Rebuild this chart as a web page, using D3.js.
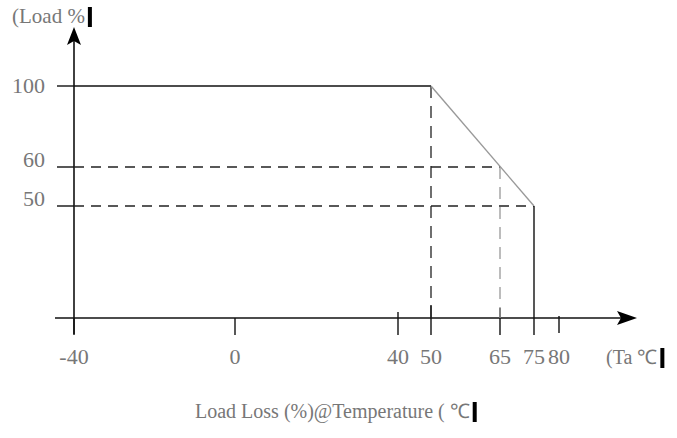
<!DOCTYPE html>
<html>
<head>
<meta charset="utf-8">
<script src="https://cdn.jsdelivr.net/npm/d3@7"></script>
<style>
  body { margin: 0; background: #fff; }
  text { font-family: "Liberation Serif", serif; fill: #777; }
</style>
</head>
<body>
<div id="chart"></div>
<script>
// DATA
var tempTicks = [-40, 0, 40, 50, 65, 75, 80];
var loadTicks = [50, 60, 100];
var curveTemp = [-40, 50, 75];
var curveLoad = [100, 100, 50];
var guideTemp = [50, 65];          // vertical dashed guides
var guideLoad = [100, 60];
var yTitle = '(Load %';
var xTitle = '(Ta \u2103';
var chartTitle = 'Load Loss (%)@Temperature ( \u2103';

// CANVAS
var width = 677, height = 438;
var svg = d3.select('#chart').append('svg')
   .attr('width', width)
   .attr('height', height)

// SCALES -- PIECEWISE, THE DRAWING IS NOT TO SCALE
var xScale = d3.scaleLinear()
   .domain([-40, 0, 40, 50, 65, 75, 80])
   .range([74, 235, 398, 431, 500, 534, 559])

var yScale = d3.scaleLinear()
   .domain([0, 50, 60, 100])
   .range([318, 206, 167, 86])

var x0 = xScale(-40), y0 = yScale(0);

// AXES LINES
svg.append('line')
   .attr('x1', x0).attr('x2', x0)
   .attr('y1', 334).attr('y2', 40)
   .attr('stroke', '#111').attr('stroke-width', 1.6)

svg.append('line')
   .attr('x1', 55).attr('x2', 622)
   .attr('y1', y0).attr('y2', y0)
   .attr('stroke', '#111').attr('stroke-width', 1.6)

// ARROW HEADS
svg.append('path')
   .attr('d', 'M' + x0 + ',27 L' + (x0 + 7) + ',45 L' + x0 + ',41 L' + (x0 - 7) + ',45 Z')
   .attr('fill', '#000')

svg.append('path')
   .attr('d', 'M637,' + y0 + ' L617,' + (y0 - 7) + ' L621,' + y0 + ' L617,' + (y0 + 7) + ' Z')
   .attr('fill', '#000')

// Y TICK STUBS
svg.selectAll('.ystub')
   .data(loadTicks)
   .enter().append('line')
      .attr('x1', 57).attr('x2', x0)
      .attr('y1', (d) => { return yScale(d) })
      .attr('y2', (d) => { return yScale(d) })
      .attr('stroke', '#111').attr('stroke-width', 1.4)

// X TICKS
var tickTop = { '-40': 0, '0': 0, '40': 6, '50': 13, '65': 10, '75': 0, '80': 2 };
svg.selectAll('.xtick')
   .data(tempTicks)
   .enter().append('line')
      .attr('x1', (d) => { return xScale(d) })
      .attr('x2', (d) => { return xScale(d) })
      .attr('y1', (d) => { return y0 - tickTop[d] })
      .attr('y2', (d) => { return d == 80 ? y0 + 15 : y0 + 17 })
      .attr('stroke', '#111').attr('stroke-width', 1.4)

// DASHED GUIDES -- HORIZONTAL
svg.append('line')
   .attr('x1', x0).attr('x2', xScale(65))
   .attr('y1', yScale(60)).attr('y2', yScale(60))
   .attr('stroke', '#222').attr('stroke-width', 1.3)
   .attr('stroke-dasharray', '10,7')

svg.append('line')
   .attr('x1', x0).attr('x2', xScale(75))
   .attr('y1', yScale(50)).attr('y2', yScale(50))
   .attr('stroke', '#222').attr('stroke-width', 1.3)
   .attr('stroke-dasharray', '10,7')

// DASHED GUIDES -- VERTICAL
svg.selectAll('.vguide')
   .data(guideTemp)
   .enter().append('line')
      .attr('x1', (d) => { return xScale(d) })
      .attr('x2', (d) => { return xScale(d) })
      .attr('y1', (d, i) => { return yScale(guideLoad[i]) })
      .attr('y2', y0)
      .attr('stroke', (d, i) => { return i ? '#999' : '#222' })
      .attr('stroke-width', 1.3)
      .attr('stroke-dasharray', '12,8')

// DERATING CURVE
var pathify = d3.line()
   .x((d) => { return xScale(d) })
   .y((d, i) => { return yScale(curveLoad[i]) })

svg.append('path')
   .attr('d', pathify(curveTemp.slice(0, 2)))
   .attr('fill', 'none').attr('stroke', '#111').attr('stroke-width', 1.4)

svg.append('path')
   .attr('d', pathify.y((d, i) => { return yScale(curveLoad[i + 1]) })(curveTemp.slice(1)))
   .attr('fill', 'none').attr('stroke', '#999').attr('stroke-width', 1.4)

svg.append('line')
   .attr('x1', xScale(75)).attr('x2', xScale(75))
   .attr('y1', yScale(50)).attr('y2', y0)
   .attr('stroke', '#111').attr('stroke-width', 1.4)

// TICK LABELS
svg.selectAll('.ylabel')
   .data(loadTicks)
   .enter().append('text')
      .attr('x', 45)
      .attr('y', (d) => { return yScale(d) + (d == 100 ? 7 : 0) })
      .attr('text-anchor', 'end')
      .attr('font-size', 22)
      .text((d) => { return d })

svg.selectAll('.xlabel')
   .data(tempTicks)
   .enter().append('text')
      .attr('x', (d) => { return xScale(d) })
      .attr('y', 364)
      .attr('text-anchor', 'middle')
      .attr('font-size', 22)
      .text((d) => { return d })

// TITLES WITH TRAILING BLACK BAR
function title(str, x, y, size) {
   var t = svg.append('text').attr('x', x).attr('y', y).attr('font-size', size).text(str)
   var w = t.node().getComputedTextLength()
   svg.append('rect')
      .attr('x', x + w + 3).attr('y', y - 16)
      .attr('width', 4).attr('height', 20)
      .attr('fill', '#000')
}

title(yTitle, 12, 23, 21)
title(xTitle, 606, 364, 20)
title(chartTitle, 195, 418, 20)

// SHORTHAND FOR CONSOLE LOGGING
function log(stuff) { console.log(stuff); }
</script>
</body>
</html>
